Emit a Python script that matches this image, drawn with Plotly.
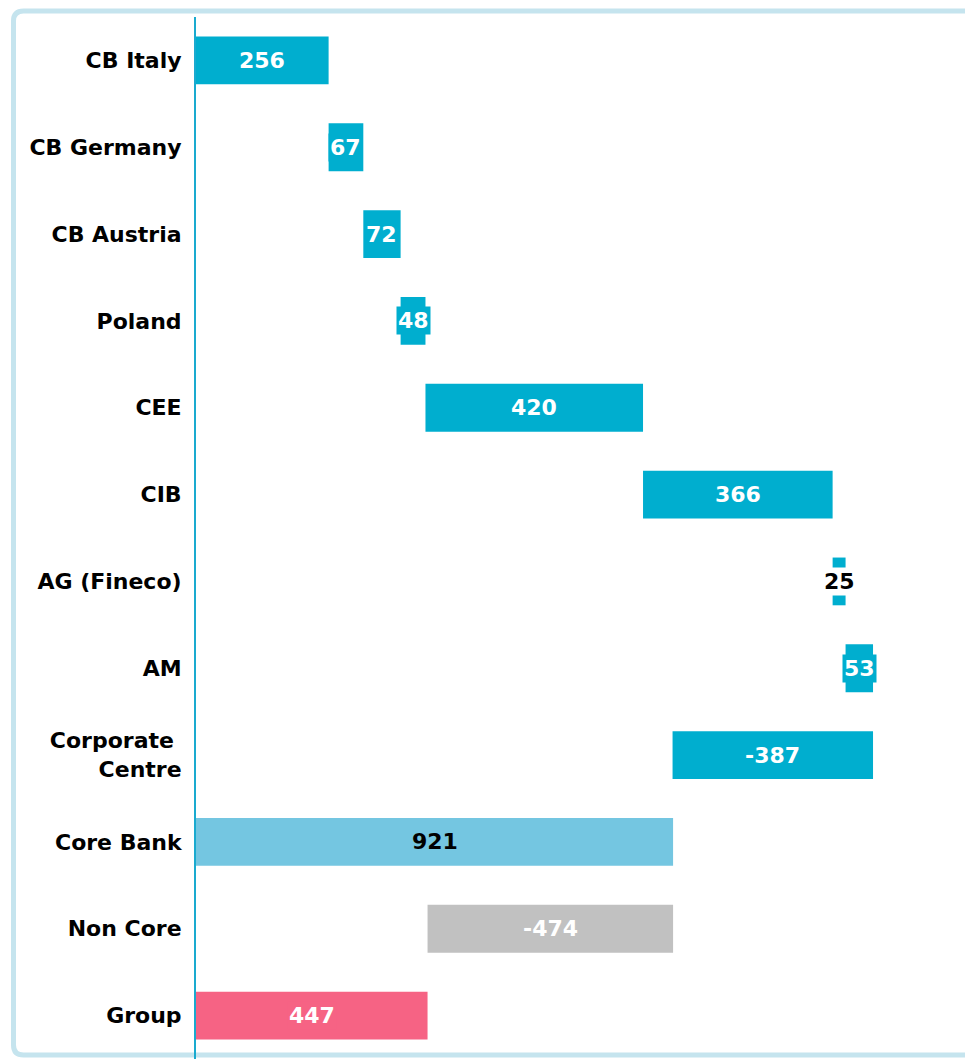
import plotly.graph_objects as go

categories = ["CB Italy", "CB Germany", "CB Austria", "Poland", "CEE", "CIB",
              "AG (Fineco)", "AM", "Corporate\u00a0<br>Centre", "Core Bank", "Non Core", "Group"]
values = [256, 67, 72, 48, 420, 366, 25, 53, -387, 921, -474, 447]
is_total = [False] * 9 + [True, False, True]
labels = ["256", "67", "72", "48", "420", "366", "25", "53", "-387", "921", "-474", "447"]

BLUE = "#00AECF"
bar_colors = [BLUE] * 9 + ["#74C6E1", "#C1C1C1", "#F66384"]
label_colors = ["white"] * 6 + ["black", "white", "white", "black", "white", "white"]
label_bg = [BLUE] * 6 + ["white", BLUE, BLUE, "#74C6E1", "#C1C1C1", "#F66384"]

# running base for each floating bar
bases, lengths = [], []
running = 0
for v, tot in zip(values, is_total):
    if tot:
        bases.append(0)
        lengths.append(v)
        running = v
    else:
        start = running
        running = running + v
        bases.append(min(start, running))
        lengths.append(abs(v))

fig = go.Figure()
fig.add_trace(go.Bar(
    y=categories, x=lengths, base=bases, orientation="h",
    marker=dict(color=bar_colors, line=dict(width=0)),
    width=0.55, hoverinfo="skip", showlegend=False))

for cat, b, ln, txt, fc, bg in zip(categories, bases, lengths, labels, label_colors, label_bg):
    fig.add_annotation(x=b + ln / 2, y=cat, text=txt, showarrow=False,
                       font=dict(family="DejaVu Sans", size=22, color=fc, weight="bold"),
                       bgcolor=bg, borderpad=1)

# page body has an 8px margin, so the figure is drawn 8px smaller and offset
OFF = 8
FW, FH = 973 - OFF, 1059 - OFF
ML, MT = 196 - OFF, 17 - OFF
W, H = FW - ML, FH - MT

def px(x):
    return (x - OFF - ML) / W

def py(y):
    return (FH - (y - OFF)) / H

# rounded frame around the chart
L, T, B, R, r = 13.5, 11, 1055, 1000, 10
path = (f"M {px(L + r)},{py(T)} L {px(R)},{py(T)} L {px(R)},{py(B)} L {px(L + r)},{py(B)} "
        f"Q {px(L)},{py(B)} {px(L)},{py(B - r)} L {px(L)},{py(T + r)} "
        f"Q {px(L)},{py(T)} {px(L + r)},{py(T)} Z")
fig.add_shape(type="path", xref="paper", yref="paper", path=path,
              line=dict(color="#C5E4EE", width=5), layer="below")

fig.update_layout(
    width=FW, height=FH,
    margin=dict(l=ML, r=0, t=MT, b=0),
    paper_bgcolor="white", plot_bgcolor="white",
    font=dict(family="DejaVu Sans", size=22, color="black"),
)
fig.update_xaxes(range=[0, 1500 * W / 777], visible=False, showgrid=False, zeroline=False)
fig.update_yaxes(autorange="reversed", showgrid=False, zeroline=False,
                 showline=True, linecolor="#1AAACF", linewidth=2,
                 tickfont=dict(family="DejaVu Sans", size=22, color="black", weight="bold"),
                 ticklabelstandoff=8)

fig.write_html("out.html")
